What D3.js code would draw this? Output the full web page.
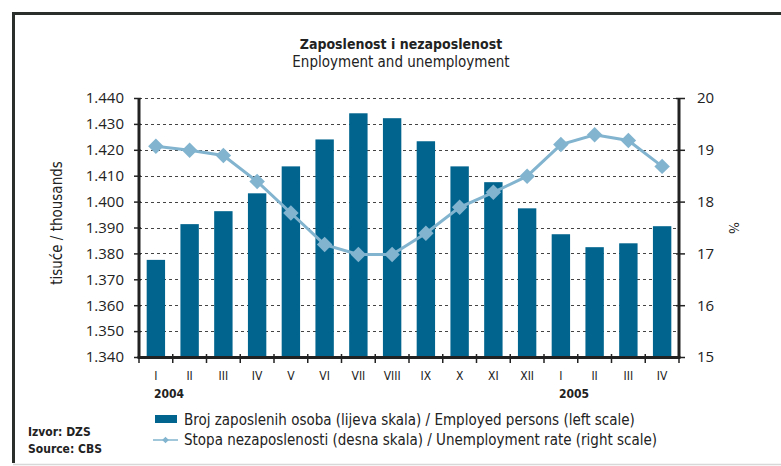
<!DOCTYPE html>
<html>
<head>
<meta charset="utf-8">
<script src="https://cdn.jsdelivr.net/npm/d3@7"></script>
<style>
  body { margin: 0; background: #fff; }
  svg text { font-family: "Liberation Sans Narrow", "DejaVu Sans Condensed", "Open Sans", sans-serif; fill: #222; }
  .tick text { font-family: "Open Sans", "DejaVu Sans", sans-serif; }
</style>
</head>
<body>
<svg id="chart" width="781" height="466"></svg>
<script>
// categories (months) and years
const months = ["I", "II", "III", "IV", "V", "VI", "VII", "VIII", "IX", "X", "XI", "XII", "I", "II", "III", "IV"];
const years = [{ label: "2004", index: 0 }, { label: "2005", index: 12 }];
// employed persons, thousands (left scale)
const employed = [1.3775, 1.3913, 1.3963, 1.4032, 1.4136, 1.4240, 1.4341, 1.4322, 1.4233, 1.4136, 1.4075, 1.3974, 1.3874, 1.3824, 1.3839, 1.3905];
// unemployment rate, % (right scale)
const unemployment = [19.07, 18.99, 18.89, 18.39, 17.78, 17.17, 16.98, 16.98, 17.39, 17.89, 18.18, 18.49, 19.10, 19.29, 19.18, 18.68];
const leftTicks = [1.34, 1.35, 1.36, 1.37, 1.38, 1.39, 1.40, 1.41, 1.42, 1.43, 1.44];
const rightTicks = [15, 16, 17, 18, 19, 20];

const barColor = "#00648e";
const lineColor = "#82b4cf";

const svg = d3.select("#chart");

// frame
svg.append("path")
  .attr("d", "M13.5,463 V13.5 H781")
  .attr("fill", "none")
  .attr("stroke", "#2b2f2b")
  .attr("stroke-width", 3);
svg.append("line")
  .attr("x1", 13).attr("x2", 781).attr("y1", 464.5).attr("y2", 464.5)
  .attr("stroke", "#d8d8d8").attr("stroke-width", 1.5);

// titles
svg.append("text")
  .attr("x", 401).attr("y", 49)
  .attr("text-anchor", "middle")
  .style("font-size", "14px").style("font-weight", "bold")
  .text("Zaposlenost i nezaposlenost");
svg.append("text")
  .attr("x", 401).attr("y", 67)
  .attr("text-anchor", "middle")
  .style("font-size", "15px")
  .text("Enployment and unemployment");

const margin = { left: 139, right: 679, top: 98, bottom: 357 };

const x = d3.scaleBand()
  .domain(d3.range(months.length))
  .range([margin.left, margin.right])
  .paddingInner(0.455)
  .paddingOuter(0.2275);

const xBound = d3.scaleLinear()
  .domain([0, months.length])
  .range([margin.left, margin.right]);

const yLeft = d3.scaleLinear().domain([1.34, 1.44]).range([margin.bottom, margin.top]);
const yRight = d3.scaleLinear().domain([15, 20]).range([margin.bottom, margin.top]);

// gridlines
svg.append("g")
  .selectAll("line")
  .data(leftTicks.slice(1))
  .enter()
  .append("line")
  .attr("x1", margin.left).attr("x2", margin.right)
  .attr("y1", (d) => Math.round(yLeft(d)) + 0.5)
  .attr("y2", (d) => Math.round(yLeft(d)) + 0.5)
  .attr("stroke", "#444")
  .attr("stroke-width", 1)
  .attr("stroke-dasharray", "3,3");

// bars
svg.append("g")
  .selectAll("rect")
  .data(employed)
  .enter()
  .append("rect")
  .attr("x", (d, i) => x(i))
  .attr("width", x.bandwidth())
  .attr("y", (d) => yLeft(d))
  .attr("height", (d) => yLeft(1.34) - yLeft(d))
  .attr("fill", barColor);

// unemployment line
const lineGen = d3.line()
  .x((d, i) => x(i) + x.bandwidth() / 2)
  .y((d) => yRight(d));
svg.append("path")
  .datum(unemployment)
  .attr("d", lineGen)
  .attr("fill", "none")
  .attr("stroke", lineColor)
  .attr("stroke-width", 3);
svg.append("g")
  .selectAll("path")
  .data(unemployment)
  .enter()
  .append("path")
  .attr("d", d3.symbol(d3.symbolSquare, 120))
  .attr("transform", (d, i) => `translate(${x(i) + x.bandwidth() / 2},${yRight(d)}) rotate(45)`)
  .attr("fill", lineColor);

// left axis
const leftAxis = svg.append("g")
  .attr("transform", `translate(${margin.left},0)`)
  .call(d3.axisLeft(yLeft).tickValues(leftTicks).tickFormat(d3.format(".3f")).tickSize(5).tickPadding(10));
leftAxis.selectAll(".tick text").style("font-size", "15px").attr("fill", "#333");

// right axis
const rightAxis = svg.append("g")
  .attr("transform", `translate(${margin.right},0)`)
  .call(d3.axisRight(yRight).tickValues(rightTicks).tickFormat(d3.format("d")).tickSize(6).tickPadding(12));
rightAxis.selectAll(".tick text").style("font-size", "15px").attr("fill", "#333");

[leftAxis, rightAxis].forEach((ax) => {
  ax.select(".domain").attr("stroke", "#222").attr("stroke-width", 3).attr("d", `M0,${margin.top}V${margin.bottom}`);
  ax.selectAll(".tick line").attr("stroke", "#222").attr("stroke-width", 1.5);
});
leftAxis.selectAll(".tick line").attr("x1", 2);
rightAxis.selectAll(".tick line").attr("x1", -3);

// bottom axis
const bottom = svg.append("g");
bottom.append("line")
  .attr("x1", margin.left - 1.5).attr("x2", margin.right + 1.5)
  .attr("y1", margin.bottom + 0.5).attr("y2", margin.bottom + 0.5)
  .attr("stroke", "#222").attr("stroke-width", 3);
bottom.selectAll(".xtick")
  .data(d3.range(months.length + 1))
  .enter()
  .append("line")
  .attr("x1", (d) => xBound(d)).attr("x2", (d) => xBound(d))
  .attr("y1", margin.bottom - 3).attr("y2", margin.bottom + 6)
  .attr("stroke", "#222").attr("stroke-width", 1.5);
bottom.selectAll(".month")
  .data(months)
  .enter()
  .append("text")
  .attr("x", (d, i) => x(i) + x.bandwidth() / 2)
  .attr("y", 380)
  .attr("text-anchor", "middle")
  .style("font-size", "12px")
  .attr("fill", "#333")
  .text((d) => d);
bottom.selectAll(".year")
  .data(years)
  .enter()
  .append("text")
  .attr("x", (d) => x(d.index) + x.bandwidth() / 2 - 2)
  .attr("y", 398)
  .style("font-size", "12px")
  .style("font-weight", "bold")
  .text((d) => d.label);

// axis titles
svg.append("text")
  .attr("transform", "translate(62,223) rotate(-90)")
  .attr("text-anchor", "middle")
  .style("font-size", "15px")
  .attr("fill", "#333")
  .text("tisuće / thousands");
svg.append("text")
  .attr("transform", "translate(729,228) rotate(90)")
  .attr("text-anchor", "middle")
  .style("font-size", "14px")
  .attr("fill", "#333")
  .text("%");

// legend
const legend = svg.append("g");
legend.append("rect")
  .attr("x", 155).attr("y", 415).attr("width", 22).attr("height", 8)
  .attr("fill", barColor);
legend.append("text")
  .attr("x", 184).attr("y", 425)
  .style("font-size", "15px")
  .attr("fill", "#333")
  .text("Broj zaposlenih osoba (lijeva skala) / Employed persons (left scale)");
legend.append("line")
  .attr("x1", 153).attr("x2", 178).attr("y1", 440).attr("y2", 440)
  .attr("stroke", lineColor).attr("stroke-width", 1.5);
legend.append("path")
  .attr("d", d3.symbol(d3.symbolSquare, 22))
  .attr("transform", "translate(165.5,440) rotate(45)")
  .attr("fill", lineColor);
legend.append("text")
  .attr("x", 184).attr("y", 445)
  .style("font-size", "15px")
  .attr("fill", "#333")
  .text("Stopa nezaposlenosti (desna skala) / Unemployment rate (right scale)");

// source
svg.append("text")
  .attr("x", 28).attr("y", 436)
  .style("font-size", "12px").style("font-weight", "bold")
  .text("Izvor: DZS");
svg.append("text")
  .attr("x", 28).attr("y", 453)
  .style("font-size", "12px").style("font-weight", "bold")
  .text("Source: CBS");
</script>
</body>
</html>
